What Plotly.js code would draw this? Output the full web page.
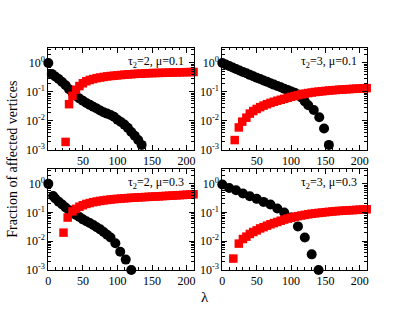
<!DOCTYPE html>
<html><head><meta charset="utf-8">
<script src="https://cdn.plot.ly/plotly-3.0.1.min.js"></script>
<style>html,body{margin:0;padding:0;background:#fff;}#chart{width:415px;height:321px;}</style>
</head><body><div id="chart"></div>
<script>
// Panel (a): tau2=2, mu=0.1
const lamBlkA = [0,5,10,15,20,25,30,35,40,45,50,55,60,65,70,75,80,85,90,95,100,105,110,115,120,125,130,135];
const blkA = [1.0,0.42,0.34,0.28,0.22,0.17,0.125,0.095,0.073,0.06,0.05,0.042,0.036,0.031,0.027,0.023,0.02,0.018,0.016,0.014,0.011,0.0092,0.0075,0.0058,0.0042,0.0031,0.0022,0.0015];
const lamRedA = [25,30,35,40,45,50,55,60,65,70,75,80,85,90,95,100,105,110,115,120,125,130,135,140,145,150,155,160,165,170,175,180,185,190,195,200,205,210];
const redA = [0.0019,0.038,0.074,0.12,0.16,0.2,0.235,0.26,0.28,0.3,0.315,0.33,0.345,0.355,0.365,0.375,0.385,0.395,0.405,0.41,0.42,0.425,0.43,0.44,0.444,0.448,0.452,0.455,0.458,0.462,0.466,0.47,0.473,0.476,0.48,0.483,0.486,0.49];

// Panel (b): tau2=3, mu=0.1
const lamBlkB = [0,5,10,15,20,25,30,35,40,45,50,55,60,65,70,75,80,85,90,95,100,105,110,115,120,125,133,141,148,155];
const blkB = [1.0,0.89,0.79,0.70,0.62,0.55,0.49,0.44,0.39,0.35,0.31,0.28,0.25,0.225,0.2,0.18,0.16,0.145,0.13,0.118,0.105,0.095,0.082,0.065,0.047,0.035,0.024,0.0135,0.0055,0.0015];
const lamRedB = [18,24,29,35,40,45,50,55,60,65,70,75,80,85,90,95,100,105,110,115,120,125,130,135,140,145,150,155,160,165,170,175,180,185,190,195,200,205,210];
const redB = [0.0022,0.006,0.0095,0.013,0.018,0.022,0.026,0.03,0.034,0.038,0.042,0.046,0.05,0.054,0.058,0.063,0.068,0.073,0.078,0.083,0.088,0.092,0.096,0.1,0.103,0.106,0.109,0.112,0.115,0.117,0.12,0.122,0.124,0.126,0.128,0.13,0.132,0.134,0.136];

// Panel (c): tau2=2, mu=0.3
const lamBlkC = [0,7,10,15,20,25,30,35,40,45,50,55,60,65,70,75,80,85,90,97,104,112,120];
const blkC = [1.0,0.38,0.31,0.24,0.19,0.15,0.12,0.1,0.083,0.07,0.058,0.05,0.043,0.037,0.031,0.026,0.021,0.017,0.0135,0.0085,0.0043,0.0023,0.001];
const lamRedC = [22,28,35,40,45,50,55,60,65,70,75,80,85,90,95,100,105,110,115,120,125,130,135,140,145,150,155,160,165,170,175,180,185,190,195,200,205,210];
const redC = [0.02,0.067,0.11,0.135,0.16,0.18,0.2,0.215,0.23,0.243,0.255,0.265,0.275,0.285,0.293,0.3,0.307,0.314,0.32,0.326,0.332,0.337,0.342,0.348,0.353,0.358,0.363,0.368,0.374,0.38,0.386,0.392,0.398,0.405,0.41,0.418,0.425,0.432];

// Panel (d): tau2=3, mu=0.3
const lamBlkD = [0,10,20,30,40,50,60,70,80,90,100,110,120,130,140];
const blkD = [0.95,0.72,0.6,0.46,0.37,0.3,0.235,0.19,0.138,0.1,0.068,0.033,0.0135,0.0035,0.001];
const lamRedD = [16,24,30,35,40,45,50,55,60,65,70,75,80,85,90,95,100,105,110,115,120,125,130,135,140,145,150,155,160,165,170,175,180,185,190,195,200,205,210];
const redD = [0.0025,0.0083,0.012,0.0145,0.018,0.021,0.024,0.028,0.031,0.035,0.039,0.043,0.047,0.052,0.057,0.062,0.066,0.071,0.075,0.079,0.083,0.087,0.091,0.094,0.097,0.1,0.103,0.106,0.109,0.112,0.114,0.116,0.118,0.12,0.122,0.124,0.126,0.128,0.13];

const panelLabels = ['τ<sub>2</sub>=2, μ=0.1','τ<sub>2</sub>=3, μ=0.1','τ<sub>2</sub>=2, μ=0.3','τ<sub>2</sub>=3, μ=0.3'];
const xTicksTop = [50,100,150,200];
const xTicksBottom = [0,50,100,150,200];
const yTickVals = [1,0.1,0.01,0.001];
const yTickText = ['10<sup>0</sup>','10<sup>-1</sup>','10<sup>-2</sup>','10<sup>-3</sup>'];
const xTitle = 'λ';
const yTitle = 'Fraction of affected vertices';

const FONT = 'Liberation Serif, Times New Roman, serif';
const panels = [
  {lb:lamBlkA, b:blkA, lr:lamRedA, r:redA},
  {lb:lamBlkB, b:blkB, lr:lamRedB, r:redB},
  {lb:lamBlkC, b:blkC, lr:lamRedC, r:redC},
  {lb:lamBlkD, b:blkD, lr:lamRedD, r:redD}
];
const xDom = [[0.1164,0.4663],[0.5357,0.8836],[0.1164,0.4663],[0.5357,0.8836]];
const yDom = [[0.5327,0.8505],[0.5327,0.8505],[0.1589,0.4735],[0.1589,0.4735]];

const data = [];
const layout = {
  width:415, height:321, margin:{l:0,r:0,t:0,b:0},
  paper_bgcolor:'#fff', plot_bgcolor:'#fff', showlegend:false,
  font:{family:FONT, size:12, color:'#000'},
  annotations:[]
};
panels.forEach((p,i)=>{
  const s = i===0 ? '' : String(i+1);
  data.push({x:p.lb, y:p.b, xaxis:'x'+s, yaxis:'y'+s, type:'scatter', mode:'markers', cliponaxis:false,
    marker:{symbol:'circle', size:10, color:'#000'}});
  data.push({x:p.lr, y:p.r, xaxis:'x'+s, yaxis:'y'+s, type:'scatter', mode:'markers', cliponaxis:false,
    marker:{symbol:'square', size:8.5, color:'#ff0000'}});
  layout['xaxis'+s] = {
    domain:xDom[i], anchor:'y'+s, range:[0,210], type:'linear',
    tickmode:'array', tickvals: i<2 ? xTicksTop : xTicksBottom,
    ticks:'inside', ticklen:5, tickwidth:1, tickcolor:'#000',
    minor:{tickmode:'linear', tick0:0, dtick:10, ticks:'inside', ticklen:2.5, tickcolor:'#000', showgrid:false},
    showline:true, linecolor:'#000', linewidth:1, mirror:'allticks',
    showgrid:false, zeroline:false, tickfont:{family:FONT, size:12, color:'#000'}
  };
  layout['yaxis'+s] = {
    domain:yDom[i], anchor:'x'+s, type:'log', range:[-3,0.517],
    tickmode:'array', tickvals:yTickVals, ticktext:yTickText,
    ticks:'inside', ticklen:5, tickwidth:1, tickcolor:'#000',
    minor:{tickmode:'array', tickvals:[0.002,0.003,0.004,0.005,0.006,0.007,0.008,0.009,0.02,0.03,0.04,0.05,0.06,0.07,0.08,0.09,0.2,0.3,0.4,0.5,0.6,0.7,0.8,0.9,2,3], ticks:'inside', ticklen:2.5, tickcolor:'#000', showgrid:false},
    showline:true, linecolor:'#000', linewidth:1, mirror:'allticks',
    showgrid:false, zeroline:false, tickfont:{family:FONT, size:12, color:'#000'}
  };
  layout.annotations.push({text:panelLabels[i], xref:'x'+s+' domain', yref:'y'+s+' domain', x:1, y:1,
    xanchor:'right', yanchor:'top', xshift:-8, yshift:-4, showarrow:false,
    font:{family:FONT, size:12, color:'#000'}});
});
layout.annotations.push({text:xTitle, xref:'paper', yref:'paper', x:0.494, y:0.075, xanchor:'center', yanchor:'middle',
  showarrow:false, font:{family:FONT, size:15, color:'#000'}});
layout.annotations.push({text:yTitle, xref:'paper', yref:'paper', x:0.031, y:0.505, xanchor:'center', yanchor:'middle',
  textangle:-90, showarrow:false, font:{family:FONT, size:14, color:'#000'}});

Plotly.newPlot('chart', data, layout, {staticPlot:true, displayModeBar:false});
</script></body></html>
